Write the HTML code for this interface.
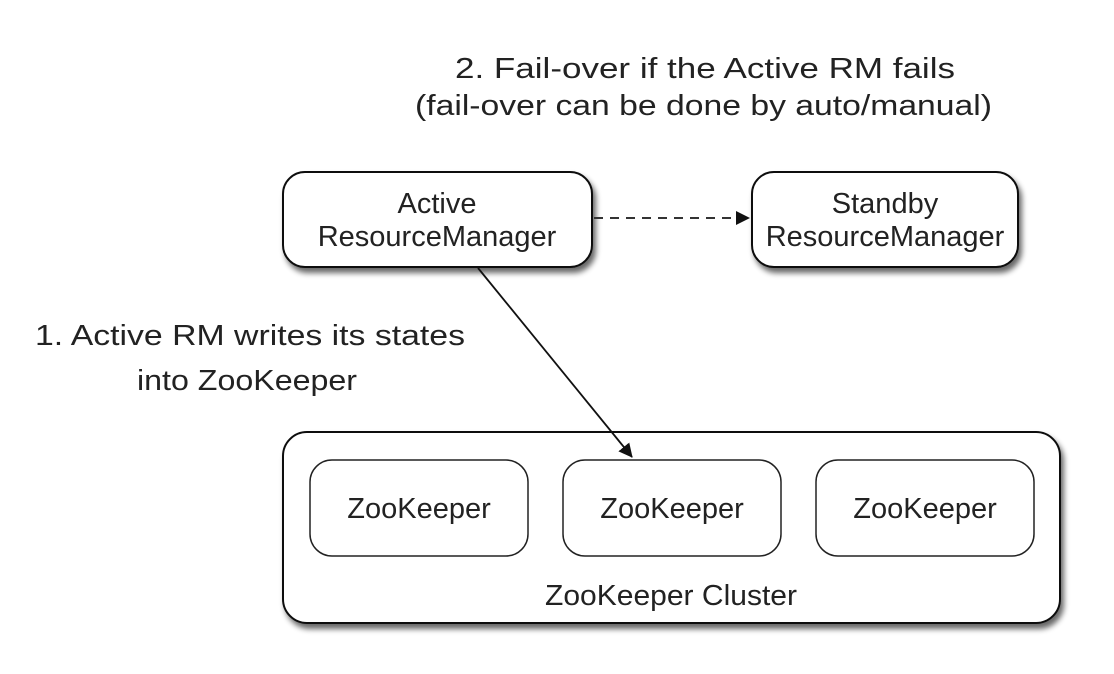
<!DOCTYPE html>
<html><head><style>body{margin:0;background:#fff}</style></head><body>
<svg width="1114" height="669" xmlns="http://www.w3.org/2000/svg" font-family="Liberation Sans, sans-serif" font-size="29" fill="#222">
<defs>
<filter id="sh" x="-10%" y="-10%" width="130%" height="140%"><feGaussianBlur in="SourceAlpha" stdDeviation="3"/><feOffset dx="3" dy="5"/><feComponentTransfer><feFuncA type="linear" slope="0.6"/></feComponentTransfer><feMerge><feMergeNode/><feMergeNode in="SourceGraphic"/></feMerge></filter>
<marker id="ar" markerWidth="14" markerHeight="14" refX="13" refY="7" orient="auto" markerUnits="userSpaceOnUse"><path d="M0,0 L14,7 L0,14 z" fill="#111"/></marker>
</defs>
<text x="455" y="78" textLength="500" lengthAdjust="spacingAndGlyphs">2. Fail-over if the Active RM fails</text>
<text x="415" y="115" textLength="577" lengthAdjust="spacingAndGlyphs">(fail-over can be done by auto/manual)</text>
<rect x="283" y="172" width="309" height="95" rx="22" fill="#fff" stroke="#111" stroke-width="2" filter="url(#sh)"/>
<rect x="752" y="172" width="266" height="95" rx="22" fill="#fff" stroke="#111" stroke-width="2" filter="url(#sh)"/>
<text x="437" y="213" text-anchor="middle">Active</text>
<text x="437" y="246" text-anchor="middle">ResourceManager</text>
<text x="885" y="213" text-anchor="middle">Standby</text>
<text x="885" y="246" text-anchor="middle">ResourceManager</text>
<line x1="594" y1="218" x2="749" y2="218" stroke="#333" stroke-width="2" stroke-dasharray="9,7" marker-end="url(#ar)"/>
<rect x="283" y="432" width="777" height="191" rx="24" fill="#fff" stroke="#111" stroke-width="2" filter="url(#sh)"/>
<rect x="310" y="460" width="218" height="96" rx="22" fill="#fff" stroke="#222" stroke-width="1.5"/>
<rect x="563" y="460" width="218" height="96" rx="22" fill="#fff" stroke="#222" stroke-width="1.5"/>
<rect x="816" y="460" width="218" height="96" rx="22" fill="#fff" stroke="#222" stroke-width="1.5"/>
<text x="419" y="518" text-anchor="middle">ZooKeeper</text>
<text x="672" y="518" text-anchor="middle">ZooKeeper</text>
<text x="925" y="518" text-anchor="middle">ZooKeeper</text>
<text x="545" y="605" textLength="252" lengthAdjust="spacingAndGlyphs">ZooKeeper Cluster</text>
<line x1="478" y1="268" x2="632" y2="457" stroke="#111" stroke-width="1.8" marker-end="url(#ar)"/>
<text x="35" y="345" textLength="430" lengthAdjust="spacingAndGlyphs">1. Active RM writes its states</text>
<text x="137" y="390" textLength="220" lengthAdjust="spacingAndGlyphs">into ZooKeeper</text>
</svg>
</body></html>
